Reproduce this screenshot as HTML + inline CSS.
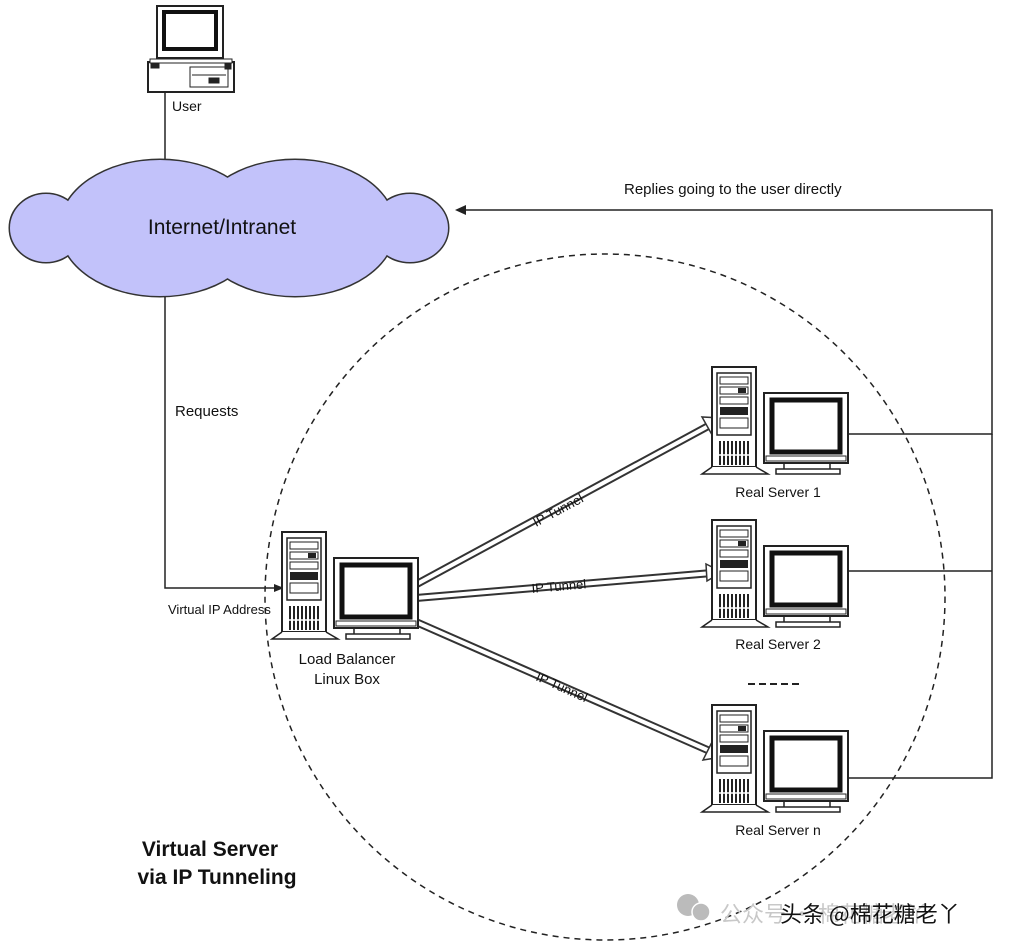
<!DOCTYPE html>
<html><head><meta charset="utf-8"><style>
body{margin:0;background:#fff}
svg{display:block}
text{font-family:"Liberation Sans",Arial,sans-serif;fill:#111}
</style></head><body>
<svg width="1016" height="950" viewBox="0 0 1016 950" xmlns="http://www.w3.org/2000/svg">
<defs>
<g id="srv">
  <rect x="2" y="0" width="44" height="100" fill="#fff" stroke="#222" stroke-width="2"/>
  <path d="M2 100 L-8 107 L58 107 L46 100" fill="#fff" stroke="#222" stroke-width="1.5"/>
  <rect x="7" y="6" width="34" height="62" fill="#fff" stroke="#222" stroke-width="1.5"/>
  <rect x="10" y="10" width="28" height="7" fill="#fff" stroke="#222"/>
  <rect x="10" y="20" width="28" height="7" fill="#fff" stroke="#222"/>
  <rect x="28" y="21" width="8" height="5" fill="#222"/>
  <rect x="10" y="30" width="28" height="7" fill="#fff" stroke="#222"/>
  <rect x="10" y="40" width="28" height="8" fill="#222"/>
  <rect x="10" y="51" width="28" height="10" fill="#fff" stroke="#222"/>
  <g stroke="#222" stroke-width="2">
    <line x1="10" y1="74" x2="10" y2="98"/><line x1="14" y1="74" x2="14" y2="98"/>
    <line x1="18" y1="74" x2="18" y2="98"/><line x1="22" y1="74" x2="22" y2="98"/>
    <line x1="26" y1="74" x2="26" y2="98"/><line x1="30" y1="74" x2="30" y2="98"/>
    <line x1="34" y1="74" x2="34" y2="98"/><line x1="38" y1="74" x2="38" y2="98"/>
  </g>
  <line x1="8" y1="88" x2="40" y2="88" stroke="#fff" stroke-width="1.5"/>
  <rect x="54" y="26" width="84" height="70" fill="#fff" stroke="#222" stroke-width="2"/>
  <rect x="62" y="33" width="68" height="52" fill="#fff" stroke="#111" stroke-width="5"/>
  <rect x="56" y="89" width="80" height="5" fill="none" stroke="#222"/>
  <path d="M74 96 L74 103 L120 103 L120 96" fill="none" stroke="#222" stroke-width="1.5"/>
  <rect x="66" y="102" width="64" height="5" fill="#fff" stroke="#222" stroke-width="1.5"/>
</g>
</defs>

<g stroke="#222" fill="#fff">
  <rect x="157" y="6" width="66" height="52" stroke-width="2"/>
  <rect x="164" y="12" width="52" height="37" stroke="#111" stroke-width="4"/>
  <rect x="148" y="62" width="86" height="30" stroke-width="2"/>
  <rect x="150" y="59" width="82" height="4" stroke-width="1"/>
  <rect x="190" y="67" width="38" height="20" stroke-width="1"/>
  <line x1="192" y1="75" x2="226" y2="75"/>
  <rect x="209" y="78" width="10" height="5" fill="#222"/>
  <rect x="151" y="64" width="8" height="4" fill="#222"/>
  <rect x="225" y="64" width="6" height="5" fill="#222"/>
</g>
<text x="172" y="111" font-size="14">User</text>
<line x1="165" y1="92" x2="165" y2="165" stroke="#222" stroke-width="1.5"/>

<ellipse cx="605" cy="597" rx="340" ry="343" fill="none" stroke="#222" stroke-width="1.5" stroke-dasharray="6,5"/>

<g fill="#c2c2fa" stroke="#333" stroke-width="3">
  <ellipse cx="46" cy="228" rx="36" ry="34"/>
  <ellipse cx="160" cy="228" rx="100" ry="68"/>
  <ellipse cx="295" cy="228" rx="100" ry="68"/>
  <ellipse cx="410" cy="228" rx="38" ry="34"/>
</g>
<g fill="#c2c2fa">
  <ellipse cx="46" cy="228" rx="36" ry="34"/>
  <ellipse cx="160" cy="228" rx="100" ry="68"/>
  <ellipse cx="295" cy="228" rx="100" ry="68"/>
  <ellipse cx="410" cy="228" rx="38" ry="34"/>
</g>
<text x="222" y="234" font-size="21" text-anchor="middle" fill="#222">Internet/Intranet</text>

<polyline points="165,297 165,588 276,588" fill="none" stroke="#222" stroke-width="1.5"/>
<polygon points="284,588 274,584 274,592" fill="#222"/>
<text x="175" y="416" font-size="15">Requests</text>
<text x="168" y="614" font-size="13">Virtual IP Address</text>

<polyline points="847,434 992,434 992,210 462,210" fill="none" stroke="#222" stroke-width="1.5"/>
<polygon points="455,210 466,205 466,215" fill="#222"/>
<line x1="847" y1="571" x2="992" y2="571" stroke="#222" stroke-width="1.5"/>
<polyline points="847,778 992,778 992,434" fill="none" stroke="#222" stroke-width="1.5"/>
<text x="624" y="194" font-size="15">Replies going to the user directly</text>

<g stroke-linecap="butt">
  <line x1="415" y1="585" x2="712" y2="424" stroke="#333" stroke-width="8"/>
  <line x1="415" y1="585" x2="712" y2="424" stroke="#fff" stroke-width="4"/>
  <line x1="416" y1="598" x2="712" y2="573" stroke="#333" stroke-width="8"/>
  <line x1="416" y1="598" x2="712" y2="573" stroke="#fff" stroke-width="4"/>
  <line x1="416" y1="622" x2="712" y2="752" stroke="#333" stroke-width="8"/>
  <line x1="416" y1="622" x2="712" y2="752" stroke="#fff" stroke-width="4"/>
</g>
<g fill="#fff" stroke="#333" stroke-width="1.5">
  <polygon points="722,418 702,417 711,433"/>
  <polygon points="722,572 706,564 707,581"/>
  <polygon points="722,757 703,760 711,744"/>
</g>
<text x="0" y="0" font-size="13" transform="translate(536,527) rotate(-28)">IP Tunnel</text>
<text x="0" y="0" font-size="13" transform="translate(532,593) rotate(-5)">IP Tunnel</text>
<text x="0" y="0" font-size="13" transform="translate(535,680) rotate(24)">IP Tunnel</text>

<use href="#srv" x="280" y="532"/>
<use href="#srv" x="710" y="367"/>
<use href="#srv" x="710" y="520"/>
<use href="#srv" x="710" y="705"/>
<text x="347" y="664" font-size="15" text-anchor="middle">Load Balancer</text>
<text x="347" y="684" font-size="15" text-anchor="middle">Linux Box</text>
<text x="778" y="497" font-size="14" text-anchor="middle">Real Server 1</text>
<text x="778" y="649" font-size="14" text-anchor="middle">Real Server 2</text>
<text x="778" y="835" font-size="14" text-anchor="middle">Real Server n</text>
<line x1="748" y1="684" x2="802" y2="684" stroke="#222" stroke-width="2" stroke-dasharray="7,4"/>

<text x="210" y="856" font-size="21" font-weight="bold" text-anchor="middle">Virtual Server</text>
<text x="217" y="884" font-size="21" font-weight="bold" text-anchor="middle">via IP Tunneling</text>

<g fill="#bbb">
  <circle cx="688" cy="905" r="11"/>
  <circle cx="701" cy="912" r="9" stroke="#fff" stroke-width="1.5"/>
</g>
<text x="720" y="922" font-size="22" style="font-family:'Noto Sans CJK SC',sans-serif;fill:#c8c8c8">公众号 · 棉花糖老丫</text>
<text x="780" y="922" font-size="22" style="font-family:'Noto Sans CJK SC',sans-serif;fill:#111">头条 @棉花糖老丫</text>
</svg>
</body></html>
